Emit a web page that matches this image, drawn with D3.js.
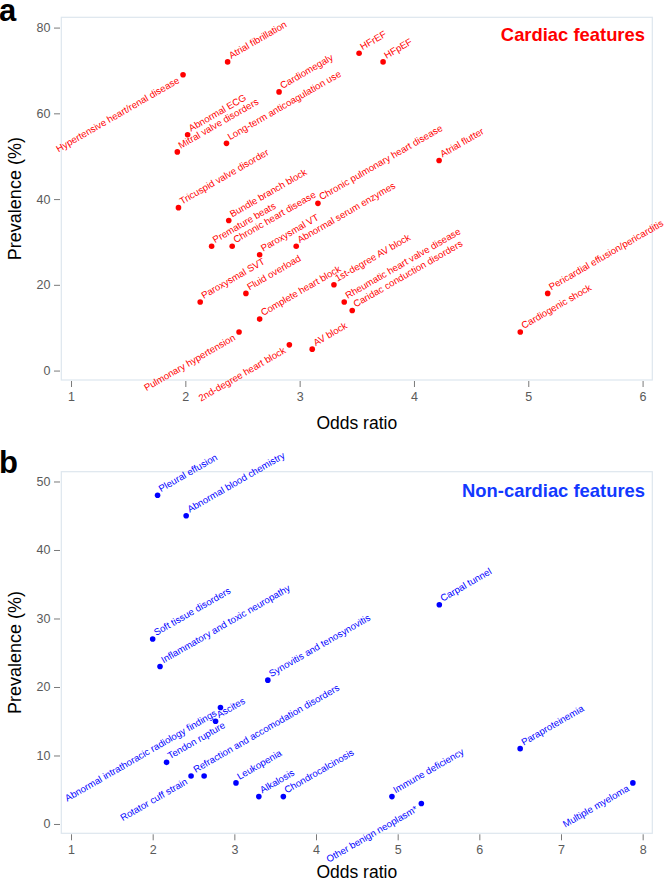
<!DOCTYPE html>
<html>
<head>
<meta charset="utf-8">
<script src="https://cdn.jsdelivr.net/npm/d3@7"></script>
<style>
  html, body { margin: 0; padding: 0; background: #fff; }
  svg { display: block; font-family: "Liberation Sans", Arial, Helvetica, sans-serif; }
</style>
</head>
<body>
<svg id="chart" width="668" height="882"></svg>
<script>
// ---------- Panel a: cardiac features ----------
const cardiacNames = [
  "Atrial fibrillation", "Hypertensive heart/renal disease", "Cardiomegaly", "HFrEF", "HFpEF",
  "Abnormal ECG", "Mitral valve disorders", "Long-term anticoagulation use", "Atrial flutter",
  "Tricuspid valve disorder", "Chronic pulmonary heart disease", "Bundle branch block",
  "Premature beats", "Chronic heart disease", "Paroxysmal VT", "Abnormal serum enzymes",
  "Paroxysmal SVT", "Fluid overload", "1st-degree AV block", "Rheumatic heart valve disease",
  "Caridac conduction disorders", "Complete heart block", "Pulmonary hypertension",
  "2nd-degree heart block", "AV block", "Pericardial effusion/pericarditis", "Cardiogenic shock"
];
const cardiacOR = [
  2.37, 1.98, 2.82, 3.52, 3.73,
  2.02, 1.93, 2.36, 4.22,
  1.94, 3.16, 2.38,
  2.23, 2.41, 2.65, 2.97,
  2.13, 2.53, 3.30, 3.39,
  3.46, 2.65, 2.47,
  2.91, 3.11, 5.17, 4.93
];
const cardiacPrev = [
  72, 69, 65, 74, 72,
  55, 51, 53, 49,
  38, 39, 35,
  29, 29, 27, 29,
  16, 18, 20, 16,
  14, 12, 9,
  6, 5, 18, 9
];
const cardiacEndLabels = ["Hypertensive heart/renal disease", "Pulmonary hypertension", "2nd-degree heart block"];
const cardiacXTicks = [1, 2, 3, 4, 5, 6];
const cardiacYTicks = [0, 20, 40, 60, 80];

// ---------- Panel b: non-cardiac features ----------
const nonCardiacNames = [
  "Pleural effusion", "Abnormal blood chemistry", "Soft tissue disorders",
  "Inflammatory and toxic neuropathy", "Synovitis and tenosynovitis", "Carpal tunnel",
  "Abnormal intrathoracic radiology findings", "Ascites", "Tendon rupture",
  "Rotator cuff strain", "Refraction and accomodation disorders", "Leukopenia",
  "Alkalosis", "Chondrocalcinosis", "Immune deficiency", "Other benign neoplasm*",
  "Paraproteinemia", "Multiple myeloma"
];
const nonCardiacOR = [
  2.06, 2.41, 2.00,
  2.09, 3.41, 5.51,
  2.83, 2.77, 2.17,
  2.47, 2.63, 3.02,
  3.30, 3.60, 4.93, 5.29,
  6.50, 7.88
];
const nonCardiacPrev = [
  48, 45, 27,
  23, 21, 32,
  17, 15, 9,
  7, 7, 6,
  4, 4, 4, 3,
  11, 6
];
const nonCardiacEndLabels = ["Abnormal intrathoracic radiology findings", "Rotator cuff strain", "Other benign neoplasm*", "Multiple myeloma"];
const nonCardiacXTicks = [1, 2, 3, 4, 5, 6, 7, 8];
const nonCardiacYTicks = [0, 10, 20, 30, 40, 50];
// label nudges (px along x) for overlapping labels
const labelNudge = { "Refraction and accomodation disorders": -12 };

const panels = [
  {
    letter: "a", title: "Cardiac features", titleColor: "#ff0000", pointColor: "#ff0000",
    names: cardiacNames, or: cardiacOR, prev: cardiacPrev, endLabels: cardiacEndLabels,
    xTicks: cardiacXTicks, yTicks: cardiacYTicks,
    xDomain: [0.915, 6.085], yDomain: [-2.2, 82.4],
    top: 17.3, bottom: 380, letterY: 21, titleY: 41, xTitleY: 428.5
  },
  {
    letter: "b", title: "Non-cardiac features", titleColor: "#1238ff", pointColor: "#0000ff",
    names: nonCardiacNames, or: nonCardiacOR, prev: nonCardiacPrev, endLabels: nonCardiacEndLabels,
    xTicks: nonCardiacXTicks, yTicks: nonCardiacYTicks,
    xDomain: [0.881, 8.118], yDomain: [-1.36, 51.43],
    top: 471.7, bottom: 833.3, letterY: 473, titleY: 497, xTitleY: 877.5
  }
];

const svg = d3.select("#chart");
const left = 61.3, right = 652.3;

panels.forEach(p => {
  const x = d3.scaleLinear().domain(p.xDomain).range([left, right]);
  const y = d3.scaleLinear().domain(p.yDomain).range([p.bottom, p.top]);
  const g = svg.append("g");

  // frame
  g.append("rect")
    .attr("x", left).attr("y", p.top)
    .attr("width", right - left).attr("height", p.bottom - p.top)
    .attr("fill", "none").attr("stroke", "#dde6ee").attr("stroke-width", 1.2);

  // y axis
  const ya = g.append("g").attr("transform", `translate(${left - 1.3},0)`)
    .call(d3.axisLeft(y).tickValues(p.yTicks).tickFormat(d3.format("d")).tickSize(6).tickSizeOuter(0).tickPadding(3.5));
  ya.select(".domain").remove();
  ya.selectAll("line").attr("stroke", "#7a7a7a");
  ya.selectAll("text").attr("fill", "#5a5a5a").style("font-size", "12.5px")
    .style("font-family", "'Liberation Sans', Arial, sans-serif");

  // x axis
  const xa = g.append("g").attr("transform", `translate(0,${p.bottom + 1})`)
    .call(d3.axisBottom(x).tickValues(p.xTicks).tickFormat(d3.format("d")).tickSize(6).tickSizeOuter(0).tickPadding(4.8));
  xa.select(".domain").remove();
  xa.selectAll("line").attr("stroke", "#7a7a7a");
  xa.selectAll("text").attr("fill", "#5a5a5a").style("font-size", "12.5px")
    .style("font-family", "'Liberation Sans', Arial, sans-serif");

  // axis titles
  g.append("text")
    .attr("x", (left + right) / 2).attr("y", p.xTitleY)
    .attr("text-anchor", "middle").style("font-size", "17.5px").attr("fill", "#000")
    .text("Odds ratio");
  g.append("text")
    .attr("transform", `translate(21,${(p.top + p.bottom) / 2}) rotate(-90)`)
    .attr("text-anchor", "middle").style("font-size", "18px").attr("fill", "#000")
    .text("Prevalence (%)");

  // panel letter
  g.append("text")
    .attr("x", -1).attr("y", p.letterY)
    .style("font-size", "31px").style("font-weight", "bold").attr("fill", "#000")
    .text(p.letter);

  // panel title
  g.append("text")
    .attr("x", 645).attr("y", p.titleY)
    .attr("text-anchor", "end")
    .style("font-size", "18.4px").style("font-weight", "bold").attr("fill", p.titleColor)
    .text(p.title);

  const data = p.names.map((n, i) => ({ name: n, or: p.or[i], prev: p.prev[i] }));

  // points
  g.append("g").selectAll("circle").data(data).join("circle")
    .attr("cx", d => x(d.or)).attr("cy", d => y(d.prev))
    .attr("r", 2.8).attr("fill", p.pointColor);

  // labels
  g.append("g").selectAll("text").data(data).join("text")
    .attr("transform", d => {
      const isEnd = p.endLabels.includes(d.name);
      const nudge = labelNudge[d.name] || 0;
      const dx = (isEnd ? -3 : 3.5) + nudge;
      const dy = isEnd ? 7.5 : -3;
      return `translate(${x(d.or) + dx},${y(d.prev) + dy}) rotate(-30)`;
    })
    .attr("text-anchor", d => p.endLabels.includes(d.name) ? "end" : "start")
    .style("font-size", "9.6px")
    .attr("fill", p.pointColor)
    .text(d => d.name);
});
</script>
</body>
</html>
